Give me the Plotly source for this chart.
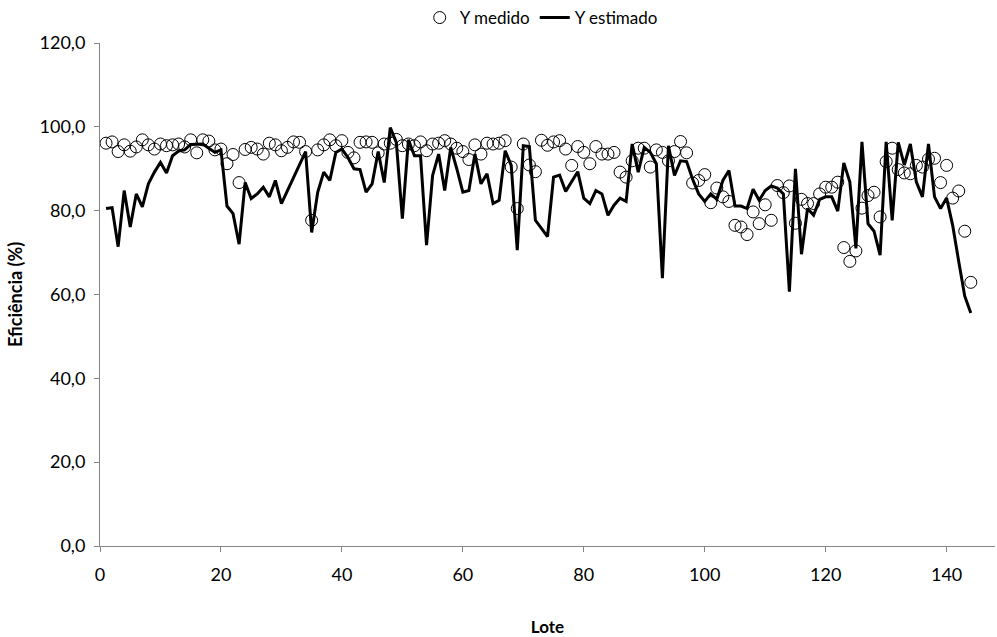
import plotly.graph_objects as go

lote = list(range(1, 145))

y_medido = [
    96.1, 96.4, 94.1, 95.7, 94.2, 95.2, 96.9, 95.7, 94.7, 95.9,
    95.5, 95.7, 95.9, 95.2, 96.9, 93.8, 96.9, 96.6, 94.5, 94.7,
    91.2, 93.4, 86.7, 94.6, 95.1, 94.7, 93.5, 96.1, 95.7, 94.3,
    95.1, 96.4, 96.3, 94.1, 77.7, 94.5, 95.7, 96.9, 95.5, 96.7,
    93.9, 92.6, 96.3, 96.4, 96.3, 93.8, 95.9, 96.1, 97.0, 95.5,
    95.9, 95.5, 96.4, 94.3, 95.9, 96.1, 96.7, 95.9, 94.9, 94.1,
    92.2, 95.7, 93.5, 96.1, 95.9, 96.1, 96.7, 90.4, 80.5, 95.9,
    90.9, 89.3, 96.8, 95.6, 96.4, 96.7, 94.7, 90.8, 95.3, 93.9,
    91.2, 95.3, 93.5, 93.5, 93.9, 89.2, 88.0, 91.9, 94.9, 94.9,
    90.4, 94.5, 93.9, 91.9, 94.1, 96.5, 93.8, 86.6, 87.2, 88.6,
    81.9, 85.4, 83.3, 82.2, 76.5, 76.1, 74.3, 79.7, 76.9, 81.4,
    77.7, 86.0, 84.3, 85.9, 77.0, 82.7, 81.7, 81.7, 84.0, 85.6,
    85.6, 86.8, 71.2, 67.9, 70.4, 80.6, 83.6, 84.4, 78.5, 91.7,
    94.9, 89.8, 89.0, 88.8, 90.8, 90.4, 92.3, 92.5, 86.7, 90.8,
    83.0, 84.7, 75.1, 62.9,
]

y_estimado = [
    80.5, 80.7, 71.4, 84.8, 76.1, 84.0, 80.9, 86.4, 89.2, 91.5,
    89.0, 93.1, 94.2, 94.5, 95.8, 95.9, 95.9, 94.9, 93.9, 94.5,
    81.1, 79.3, 72.0, 86.7, 82.9, 84.0, 85.6, 83.3, 87.2, 81.7,
    84.8, 88.0, 90.8, 94.1, 74.8, 84.4, 89.2, 87.2, 93.9, 94.7,
    92.7, 90.0, 89.8, 84.4, 86.4, 94.1, 86.7, 99.8, 96.3, 78.1,
    96.9, 93.1, 93.1, 71.8, 88.4, 93.5, 84.8, 95.1, 90.0, 84.4,
    84.8, 93.5, 86.4, 88.8, 81.7, 82.5, 94.3, 90.8, 70.6, 95.5,
    95.3, 77.7, 75.8, 73.8, 88.0, 88.5, 84.6, 86.8, 89.3, 83.0,
    81.7, 84.8, 84.0, 78.9, 81.3, 83.0, 82.2, 95.9, 89.2, 95.1,
    93.9, 91.2, 63.9, 95.5, 88.4, 91.9, 91.7, 87.5, 84.0, 82.2,
    84.0, 82.7, 87.2, 89.6, 81.1, 81.1, 80.5, 85.1, 82.5, 84.8,
    85.9, 85.4, 84.0, 60.7, 90.0, 69.6, 80.5, 78.9, 82.7, 83.3,
    83.3, 79.9, 91.4, 86.8, 71.0, 96.4, 76.9, 75.1, 69.4, 96.4,
    77.7, 96.3, 90.9, 95.9, 86.8, 83.3, 95.9, 83.3, 80.5, 83.0,
    76.5, 67.9, 59.6, 55.6,
]

y_ticks = [0, 20, 40, 60, 80, 100, 120]
x_ticks = [0, 20, 40, 60, 80, 100, 120, 140]

FONT = "Lato"
AXIS = "#868686"

fig = go.Figure()
fig.add_trace(go.Scatter(
    x=lote, y=y_medido, mode="markers", name="Y medido",
    marker=dict(symbol="circle-open", size=12, color="#000000",
                line=dict(width=1, color="#000000")),
))
fig.add_trace(go.Scatter(
    x=lote, y=y_estimado, mode="lines", name="Y estimado",
    line=dict(color="#000000", width=3),
))

fig.update_layout(
    width=997, height=637,
    margin=dict(l=100, r=2, t=43, b=91, autoexpand=False),
    paper_bgcolor="white", plot_bgcolor="white",
    separators=", ",
    font=dict(family=FONT, size=18, color="#000000"),
    showlegend=True,
    legend=dict(orientation="h", x=0.493, xanchor="center",
                yref="container", y=1 - 18 / 637, yanchor="middle",
                font=dict(family=FONT, size=17), itemwidth=30,
                bgcolor="rgba(0,0,0,0)", tracegroupgap=0),
    xaxis=dict(
        range=[0, 148], tickvals=x_ticks, ticktext=[str(v) for v in x_ticks],
        showgrid=False, zeroline=False, showline=True, linecolor=AXIS, linewidth=1,
        ticks="outside", ticklen=5, tickcolor=AXIS, ticklabelstandoff=7,
        tickfont=dict(family=FONT, size=18),
        title=dict(text="<b>Lote</b>", font=dict(family=FONT, size=17), standoff=42),
    ),
    yaxis=dict(
        range=[0, 120], tickvals=y_ticks, tickformat=".1f",
        showgrid=False, zeroline=False, showline=True, linecolor=AXIS, linewidth=1,
        ticks="outside", ticklen=5, tickcolor=AXIS, ticklabelstandoff=5,
        tickfont=dict(family=FONT, size=18),
        title=dict(text="<b>Eficiência (%)</b>", font=dict(family=FONT, size=18), standoff=12),
    ),
)

fig.write_html("out.html")
